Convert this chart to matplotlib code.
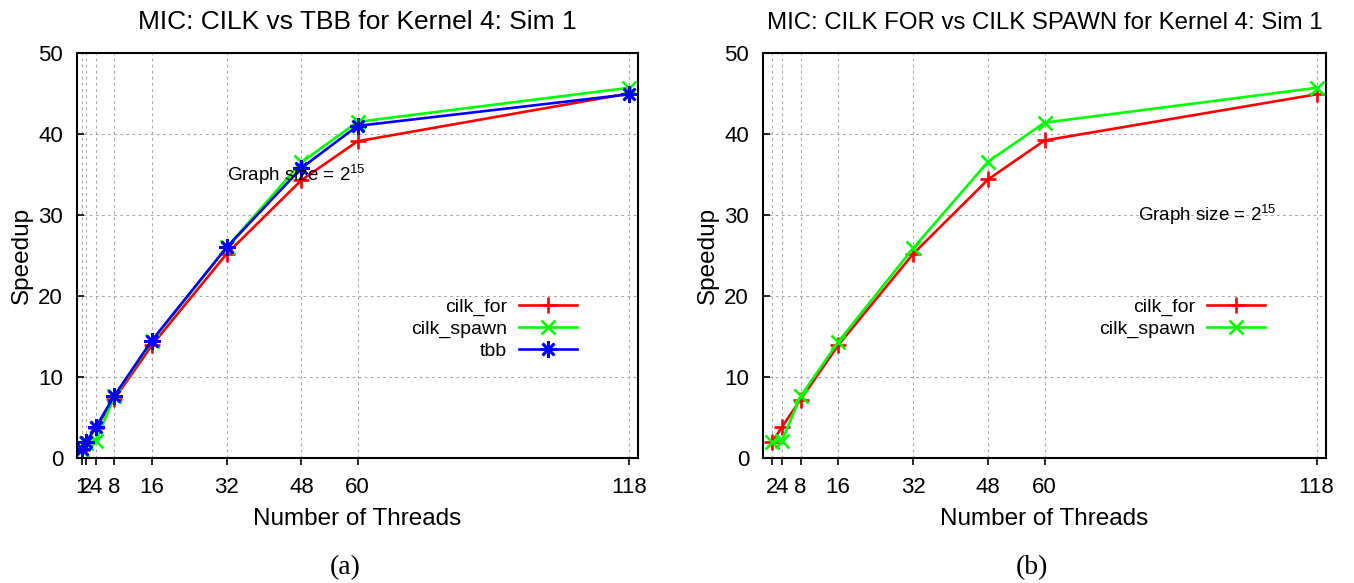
import matplotlib
matplotlib.use("Agg")
import matplotlib.pyplot as plt

# ---------------- data ----------------
threads_a = [1, 2, 4, 8, 16, 32, 48, 60, 118]
cilk_for_a = [1.0, 2.0, 3.7, 7.3, 13.9, 25.2, 34.3, 39.1, 45.0]
cilk_spawn_a = [1.0, 1.9, 2.1, 7.6, 14.4, 26.0, 36.5, 41.5, 45.7]
tbb_a = [1.1, 2.0, 3.8, 7.7, 14.5, 26.0, 35.8, 41.0, 44.9]

threads_b = [2, 4, 8, 16, 32, 48, 60, 118]
cilk_for_b = [2.0, 3.8, 7.2, 13.9, 25.2, 34.4, 39.2, 44.9]
cilk_spawn_b = [2.0, 2.1, 7.6, 14.3, 25.9, 36.6, 41.4, 45.7]

yticks = [0, 10, 20, 30, 40, 50]
title_a = "MIC: CILK vs TBB for Kernel 4: Sim 1"
title_b = "MIC: CILK FOR vs CILK SPAWN for Kernel 4: Sim 1"
annot = r"Graph size = 2$^{15}$"

# ---------------- style ----------------
plt.rcParams['font.family'] = ['Liberation Sans', 'DejaVu Sans']
plt.rcParams['mathtext.fontset'] = 'custom'
plt.rcParams['mathtext.rm'] = 'Liberation Sans'
plt.rcParams['mathtext.it'] = 'Liberation Sans'

W, H = 1354, 583
fig = plt.figure(figsize=(W / 100, H / 100), dpi=100)

ax_a = fig.add_axes([77 / W, (H - 458) / H, (638 - 77) / W, 405 / H])
ax_b = fig.add_axes([763 / W, (H - 458) / H, (1326 - 763) / W, 405 / H])

RED, GREEN, BLUE = '#ff0000', '#00ff00', '#0000ff'
LW = 1.9
MS = 10
MEW = 1.9


def style_axes(ax, xticks, title, title_size):
    ax.set_xlim(0, 120)
    ax.set_ylim(0, 50)
    ax.set_xticks(xticks)
    ax.set_xticklabels([str(t) for t in xticks])
    ax.set_yticks(yticks)
    ax.grid(True, color='#a8a8a8', linestyle=(0, (2.5, 3)), linewidth=0.8)
    ax.set_axisbelow(True)
    for s in ax.spines.values():
        s.set_linewidth(1.5)
    ax.tick_params(axis='x', direction='out', length=5, width=1.2,
                   labelsize=16, pad=9, top=False)
    ax.tick_params(axis='y', direction='in', length=5, width=1.2,
                   labelsize=16, pad=10, right=False)
    ax.set_xlabel("Number of Threads", fontsize=17.5, labelpad=7)
    ax.set_ylabel("Speedup", fontsize=17.5, labelpad=4)
    ax.set_title(title, fontsize=title_size, pad=17)


# ---- chart (a)
ax_a.plot(threads_a, cilk_for_a, color=RED, lw=LW, marker='+', ms=MS + 2,
          mew=MEW, label='cilk_for')
ax_a.plot(threads_a, cilk_spawn_a, color=GREEN, lw=LW, marker='x', ms=MS,
          mew=MEW, label='cilk_spawn')
ax_a.plot(threads_a, tbb_a, color=BLUE, lw=LW, marker=(8, 2, 0), ms=MS + 2,
          mew=MEW, label='tbb')
style_axes(ax_a, threads_a, title_a, 19)
ax_a.text(32, 35, annot, fontsize=13.5, ha='left', va='center')
ax_a.legend(loc='upper right', bbox_to_anchor=(107 / 120, 0.395),
            markerfirst=False, frameon=False, fontsize=14, handlelength=3.0,
            handletextpad=0.6, labelspacing=0.22, borderpad=0,
            borderaxespad=0)

# ---- chart (b)
ax_b.plot(threads_b, cilk_for_b, color=RED, lw=LW, marker='+', ms=MS + 2,
          mew=MEW, label='cilk_for')
ax_b.plot(threads_b, cilk_spawn_b, color=GREEN, lw=LW, marker='x', ms=MS,
          mew=MEW, label='cilk_spawn')
style_axes(ax_b, threads_b, title_b, 17.3)
ax_b.text(80, 30, annot, fontsize=13.5, ha='left', va='center')
ax_b.legend(loc='upper right', bbox_to_anchor=(107 / 120, 0.395),
            markerfirst=False, frameon=False, fontsize=14, handlelength=3.0,
            handletextpad=0.6, labelspacing=0.22, borderpad=0,
            borderaxespad=0)

# ---- captions
fig.text(345 / W, 1 - 568 / H, "(a)", family=['Liberation Serif', 'DejaVu Serif'],
         fontsize=20, ha='center', va='center')
fig.text(1032 / W, 1 - 568 / H, "(b)", family=['Liberation Serif', 'DejaVu Serif'],
         fontsize=20, ha='center', va='center')

fig.savefig("out.png", dpi=100)
